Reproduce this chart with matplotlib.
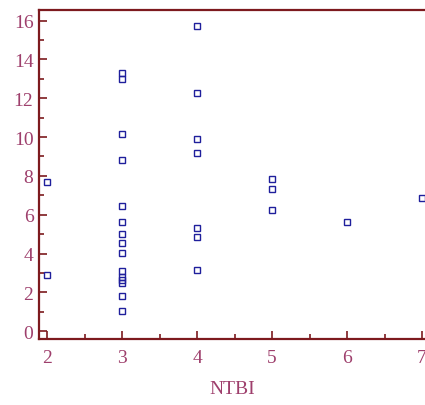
import matplotlib
matplotlib.use("Agg")
import matplotlib.pyplot as plt
from matplotlib.ticker import MultipleLocator

# NTBI groups and the measured values for each point
ntbi = [2, 2,
        3, 3, 3, 3, 3, 3, 3, 3, 3, 3, 3, 3, 3, 3, 3,
        4, 4, 4, 4, 4, 4, 4,
        5, 5, 5,
        6,
        7]
values = [7.7, 2.9,
          13.3, 13.0, 10.15, 8.83, 6.46, 5.65, 5.03, 4.52, 4.04, 3.08, 2.8, 2.65, 2.48, 1.82, 1.03,
          15.7, 12.25, 9.88, 9.16, 5.33, 4.85, 3.14,
          7.84, 7.32, 6.22,
          5.6,
          6.85]

axis_col = "#7d1a1e"
label_col = "#9e3f6c"
mark_col = "#1f1f9c"

plt.rcParams['font.family'] = ['Liberation Serif', 'DejaVu Serif']

fig = plt.figure(figsize=(4.25, 4.06), dpi=100)
ax = fig.add_axes([0.0918, 0.1626, 0.9106, 0.811])

ax.plot(ntbi, values, linestyle='none', marker='s', markersize=5,
        markerfacecolor='none', markeredgecolor=mark_col, markeredgewidth=1.0)

ax.set_xlim(1.893, 7.053)
ax.set_ylim(-0.4, 16.56)

ax.xaxis.set_major_locator(MultipleLocator(1))
ax.xaxis.set_minor_locator(MultipleLocator(0.5))
ax.yaxis.set_major_locator(MultipleLocator(2))
ax.yaxis.set_minor_locator(MultipleLocator(1))

for side in ['left', 'bottom', 'top']:
    ax.spines[side].set_color(axis_col)
    ax.spines[side].set_linewidth(1.6)
ax.spines['right'].set_visible(False)

ax.tick_params(which='major', direction='in', length=6, width=1.2,
               color=axis_col, labelcolor=label_col, labelsize=14)
ax.tick_params(which='minor', direction='in', length=3.5, width=1.2,
               color=axis_col)
ax.tick_params(axis='x', which='major', pad=7)
ax.tick_params(axis='y', which='major', pad=4)

ax.set_xlabel('NTBI', color=label_col, fontsize=14, labelpad=10)

fig.savefig('out.png', dpi=100)
